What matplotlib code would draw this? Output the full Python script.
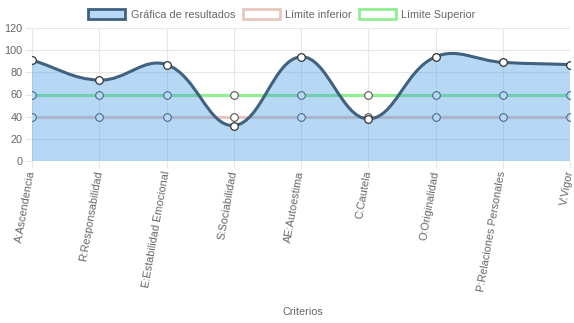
import numpy as np
import matplotlib.pyplot as plt
from matplotlib.path import Path
from matplotlib.patches import PathPatch, Patch

plt.rcParams['font.family'] = ['Liberation Sans', 'DejaVu Sans']

# datos
criterios = ["A:Ascendencia", "R:Responsabilidad", "E:Estabilidad Emocional",
             "S:Sociabilidad", "AE:Autoestima", "C:Cautela", "O:Originalidad",
             "P:Relaciones Personales", "V:Vigor"]
resultados = [91, 73, 87, 32, 94, 38, 94, 89, 87]
limite_inferior = [40, 40, 40, 40, 40, 40, 40, 40, 40]
limite_superior = [60, 60, 60, 60, 60, 60, 60, 60, 60]

azul_linea = '#40627f'
azul_relleno = (60/255, 150/255, 230/255, 0.37)
rosa = '#e8c8be'
verde = '#90ee90'
gris = '#666666'
fs = 7.8

fig = plt.figure(figsize=(5.74, 3.23), dpi=100)
ax = fig.add_axes([32/574, 1 - 161/323, 538/574, 133/323])
x = np.arange(len(criterios))
ax.set_xlim(0, len(criterios) - 1)
ax.set_ylim(0, 120)


def curva(ax, xs, ys, t=0.4):
    # curva cardinal como la de Chart.js (en pixeles)
    pts = ax.transData.transform(np.column_stack([xs, ys]))
    n = len(pts)
    ctrl = []
    for i in range(n):
        prev = pts[max(i - 1, 0)]
        cur = pts[i]
        nxt = pts[min(i + 1, n - 1)]
        d01 = np.hypot(*(cur - prev))
        d12 = np.hypot(*(nxt - cur))
        s = d01 + d12
        fa = t * d01 / s if s else 0
        fb = t * d12 / s if s else 0
        ctrl.append((cur - fa * (nxt - prev), cur + fb * (nxt - prev)))
    verts = [pts[0]]
    codes = [Path.MOVETO]
    for i in range(1, n):
        verts += [ctrl[i - 1][1], ctrl[i][0], pts[i]]
        codes += [Path.CURVE4] * 3
    verts = ax.transData.inverted().transform(np.array(verts))
    return verts, codes


# limites
ax.plot(x, limite_inferior, color=rosa, lw=2.3, zorder=2, solid_capstyle='butt')
ax.plot(x, limite_superior, color=verde, lw=2.3, zorder=2, solid_capstyle='butt')
ax.plot(x, limite_inferior, 'o', ms=5.5, mfc='white', mec='#555555', mew=0.8, zorder=2.5)
ax.plot(x, limite_superior, 'o', ms=5.5, mfc='white', mec='#555555', mew=0.8, zorder=2.5)

# resultados
verts, codes = curva(ax, x, resultados)
relleno = list(verts) + [(x[-1], 0), (x[0], 0), verts[0]]
codes_r = codes + [Path.LINETO, Path.LINETO, Path.CLOSEPOLY]
ax.add_patch(PathPatch(Path(relleno, codes_r), facecolor=azul_relleno, edgecolor='none', zorder=3))
ax.add_patch(PathPatch(Path(verts, codes), facecolor='none', edgecolor=azul_linea, lw=2.2, zorder=4))
ax.plot(x, resultados, 'o', ms=5.5, mfc='white', mec='#333333', mew=0.9, zorder=5)

# ejes
for s in ax.spines.values():
    s.set_visible(False)
ax.set_yticks(range(0, 121, 20))
ax.set_xticks(x)
ax.grid(True, color='#e6e6e6', lw=0.8, zorder=0)
ax.axhline(0, color='#cfcfcf', lw=0.9, zorder=1)
ax.tick_params(length=5, color='#e6e6e6', labelcolor=gris, labelsize=fs, pad=2)
ax.set_xticklabels(criterios, rotation=80, ha='right', va='center',
                   rotation_mode='anchor', fontsize=fs)
fig.text(303/574, 1 - 312/323, 'Criterios', ha='center', va='center', color=gris, fontsize=fs)

# leyenda
handles = [Patch(facecolor='#b7d8f6', edgecolor=azul_linea, lw=2.0),
           Patch(facecolor='white', edgecolor=rosa, lw=2.0),
           Patch(facecolor='white', edgecolor=verde, lw=2.0)]
fig.legend(handles, ['Gráfica de resultados', 'Límite inferior', 'Límite Superior'],
           loc='center', bbox_to_anchor=(282/574, 1 - 14.5/323), ncol=3, frameon=False,
           fontsize=fs, labelcolor=gris, handlelength=3.4, handleheight=1.1,
           handletextpad=0.5, columnspacing=0.72, borderpad=0)

fig.savefig('out.png', dpi=100)
